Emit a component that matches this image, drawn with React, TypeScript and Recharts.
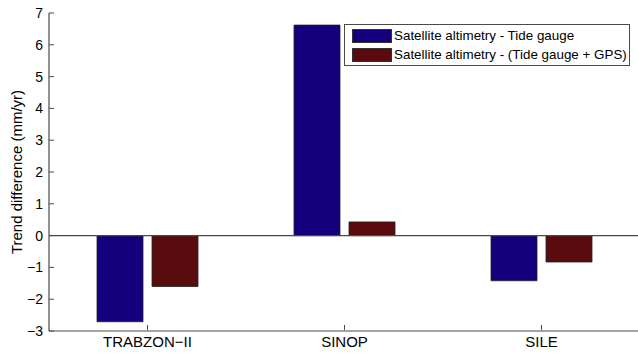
import React from 'react';
import { BarChart, Bar, XAxis, YAxis, ReferenceLine } from 'recharts';

const categories = ['TRABZON\u2212II', 'SINOP', 'SILE'];
const seriesNames = ['Satellite altimetry - Tide gauge', 'Satellite altimetry - (Tide gauge + GPS)'];
const altVsTide = [-2.71, 6.62, -1.42];
const altVsTideGps = [-1.6, 0.43, -0.83];
const yTicks = [-3, -2, -1, 0, 1, 2, 3, 4, 5, 6, 7];
const colors = ['#14007c', '#5a0b0e'];

const data = categories.map((c, i) => ({ name: c, a: altVsTide[i], b: altVsTideGps[i] }));

const FONT = '"Liberation Sans", Arial, sans-serif';
const AXIS = '#4a4a4a';
const fmt = (v: number) => String(v).replace('-', '\u2212');

const LeftTick = (props: any) => {
  const { x, y, payload } = props;
  return (
    <g>
      <text x={x} y={y} dy="0.36em" textAnchor="end" fontSize={14} fontFamily={FONT} fill="#000">
        {fmt(payload.value)}
      </text>
      <line x1={x + 6} x2={x + 11} y1={y} y2={y} stroke={AXIS} strokeWidth={1} />
    </g>
  );
};

const RightTick = (props: any) => {
  const { x, y } = props;
  return <line x1={x - 5} x2={x} y1={y} y2={y} stroke={AXIS} strokeWidth={1} />;
};

const BottomTick = (props: any) => {
  const { x, y, payload } = props;
  return (
    <g>
      <text x={x} y={y} dy="0.8em" textAnchor="middle" fontSize={15} fontFamily={FONT} fill="#000">
        {payload.value}
      </text>
      <line x1={x} x2={x} y1={y - 5} y2={y - 10} stroke={AXIS} strokeWidth={1} />
    </g>
  );
};

const TopTick = (props: any) => {
  const { x, y } = props;
  return <line x1={x} x2={x} y1={y} y2={y + 5} stroke={AXIS} strokeWidth={1} />;
};

export default function App() {
  return (
    <div style={{ position: 'absolute', left: 0, top: 0, width: 638, height: 354, overflow: 'hidden', background: '#fff' }}>
      <BarChart
        width={640}
        height={354}
        data={data}
        margin={{ top: 13, right: 0, bottom: 0, left: 0 }}
        barSize={46}
        barGap={9}
      >
        <XAxis
          dataKey="name"
          orientation="bottom"
          height={23}
          tickSize={0}
          tickMargin={4}
          tick={<BottomTick />}
          tickLine={false}
          axisLine={{ stroke: AXIS, strokeWidth: 1.2 }}
        />
        <XAxis
          xAxisId="top"
          dataKey="name"
          orientation="top"
          height={0}
          tickSize={0}
          tickMargin={0}
          tick={<TopTick />}
          tickLine={false}
          axisLine={{ stroke: AXIS, strokeWidth: 1.2 }}
        />
        <YAxis
          type="number"
          domain={[-3, 7]}
          ticks={yTicks}
          width={49}
          tickSize={0}
          tickMargin={6}
          tick={<LeftTick />}
          tickLine={false}
          axisLine={{ stroke: AXIS, strokeWidth: 1.2 }}
          label={{
            value: 'Trend difference (mm/yr)',
            angle: -90,
            position: 'insideLeft',
            offset: 17,
            style: { textAnchor: 'middle', fontSize: 15, fontFamily: FONT, fill: '#000' },
          }}
        />
        <YAxis
          yAxisId="right"
          orientation="right"
          type="number"
          domain={[-3, 7]}
          ticks={yTicks}
          width={0}
          tickSize={0}
          tickMargin={0}
          tick={<RightTick />}
          tickLine={false}
          axisLine={{ stroke: AXIS, strokeWidth: 1.2 }}
        />
        <ReferenceLine y={0} stroke={AXIS} strokeWidth={1.2} />
        <Bar dataKey="a" name={seriesNames[0]} fill={colors[0]} stroke="#222" strokeWidth={0.8} isAnimationActive={false} />
        <Bar dataKey="b" name={seriesNames[1]} fill={colors[1]} stroke="#222" strokeWidth={0.8} isAnimationActive={false} />
      </BarChart>
      <div
        style={{
          position: 'absolute',
          left: 344,
          top: 24,
          width: 286,
          height: 42,
          border: `1px solid ${AXIS}`,
          background: '#fff',
          fontFamily: FONT,
          fontSize: 13.4,
          color: '#000',
          boxSizing: 'border-box',
        }}
      >
        {seriesNames.map((n, i) => (
          <div key={n} style={{ position: 'absolute', left: 7, top: 3 + i * 19, height: 15, display: 'flex', alignItems: 'center', whiteSpace: 'nowrap' }}>
            <span style={{ display: 'inline-block', width: 40, height: 14, background: colors[i], border: '1px solid #333', boxSizing: 'border-box', marginRight: 2 }} />
            <span>{n}</span>
          </div>
        ))}
      </div>
    </div>
  );
}
